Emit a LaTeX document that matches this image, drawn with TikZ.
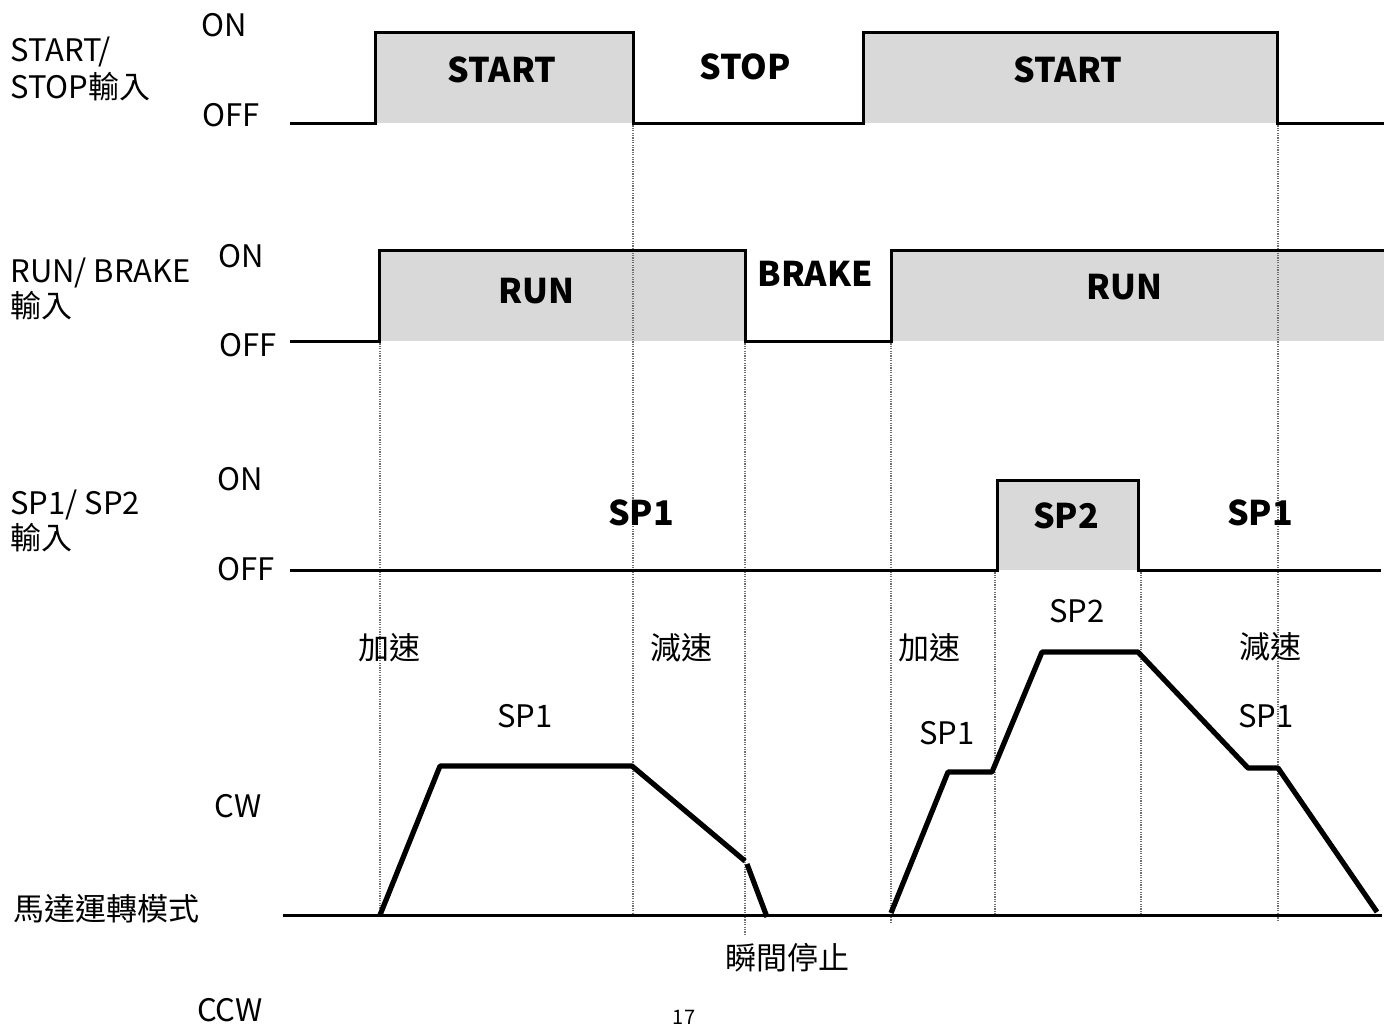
\documentclass[tikz,border=0pt]{standalone}
\usepackage{fontspec}
\setmainfont{Noto Sans CJK TC}
\definecolor{pulsefill}{HTML}{D9D9D9}
\definecolor{guidegray}{HTML}{707070}
\begin{document}
\begin{tikzpicture}[x=0.5pt,y=-0.5pt,
  lbl/.style={inner sep=0pt, font=\fontsize{15.5}{17}\selectfont},
  leftlbl/.style={lbl, anchor=west},
  state/.style={inner sep=0pt, font=\fontsize{17}{19}\selectfont\bfseries},
  wave/.style={line width=1.5pt, line join=miter},
  speed/.style={line width=2.6pt, line join=round},
  axis/.style={line width=1.5pt},
  guide/.style={line width=0.6pt, guidegray, dash pattern=on 0.6pt off 0.6pt},
  pulse/.style={fill=pulsefill, draw=none}]
\useasboundingbox (0,0) rectangle (1392,1024);

% shaded ON intervals
\fill[pulse] (375,32) rectangle (633,123);
\fill[pulse] (863,32) rectangle (1277,123);
\fill[pulse] (379,250) rectangle (745,341);
\fill[pulse] (891,250) rectangle (1384,341);
\fill[pulse] (997,480) rectangle (1138,570);

% dotted timing guides
\draw[guide] (380,341) -- (380,915);
\draw[guide] (633,123) -- (633,915);
\draw[guide] (745,341) -- (745,935);
\draw[guide] (891,341) -- (891,922);
\draw[guide] (995,570) -- (995,915);
\draw[guide] (1141,570) -- (1141,915);
\draw[guide] (1278,123) -- (1278,922);

% START/STOP input
\draw[wave] (290,123) -- (375,123) -- (375,32) -- (633,32) -- (633,123)
  -- (863,123) -- (863,32) -- (1277,32) -- (1277,123) -- (1384,123);
% RUN/BRAKE input
\draw[wave] (290,341) -- (379,341) -- (379,250) -- (745,250) -- (745,341)
  -- (891,341) -- (891,250) -- (1384,250);
% SP1/SP2 input
\draw[wave] (290,570) -- (997,570) -- (997,480) -- (1138,480) -- (1138,570)
  -- (1381,570);

% motor speed axis and profiles
\draw[axis] (283,915) -- (1382,915);
\draw[speed] (380,915) -- (440,766) -- (632,766) -- (745,861);
\draw[speed] (747,864) -- (767,917);
\draw[speed] (891,913) -- (948,772) -- (992,772) -- (1042,652) -- (1138,652)
  -- (1248,768) -- (1278,768) -- (1377,912);

% row titles
\node[leftlbl] (t1a) at (10,52) {START/};
\node[leftlbl] (t1b) at (10,87) {STOP輸入};
\node[leftlbl] (t2a) at (10,273) {RUN/ BRAKE};
\node[leftlbl] (t2b) at (10,306) {輸入};
\node[leftlbl] (t3a) at (10,505) {SP1/ SP2};
\node[leftlbl] (t3b) at (10,538) {輸入};
\node[lbl] (t4) at (106,909) {馬達運轉模式};

% level labels
\node[lbl] (on1) at (224,25) {ON};
\node[lbl] (off1) at (231,115) {OFF};
\node[lbl] (on2) at (241,256) {ON};
\node[lbl] (off2) at (248,345) {OFF};
\node[lbl] (on3) at (240,479) {ON};
\node[lbl] (off3) at (246,569) {OFF};
\node[lbl] (cw) at (238,806) {CW};
\node[lbl] (ccw) at (230,1010) {CCW};

% state labels
\node[state] (s1) at (502,70) {START};
\node[state] (s2) at (745,67) {STOP};
\node[state] (s3) at (1068,70) {START};
\node[state] (r1) at (536,291) {RUN};
\node[state] (r2) at (815,274) {BRAKE};
\node[state] (r3) at (1124,287) {RUN};
\node[state] (p1) at (641,513) {SP1};
\node[state] (p2) at (1066,516) {SP2};
\node[state] (p3) at (1260,513) {SP1};

% speed profile labels
\node[lbl] (a1) at (389,648) {加速};
\node[lbl] (d1) at (681,648) {減速};
\node[lbl] (a2) at (929,648) {加速};
\node[lbl] (d2) at (1270,647) {減速};
\node[lbl] (v1) at (525,716) {SP1};
\node[lbl] (v2) at (1077,611) {SP2};
\node[lbl] (v3) at (947,733) {SP1};
\node[lbl] (v4) at (1266,716) {SP1};
\node[lbl] (stop) at (787,958) {瞬間停止};
\node[inner sep=0pt, font=\fontsize{10}{12}\selectfont] (pg) at (684,1017) {17};
\end{tikzpicture}
\end{document}
